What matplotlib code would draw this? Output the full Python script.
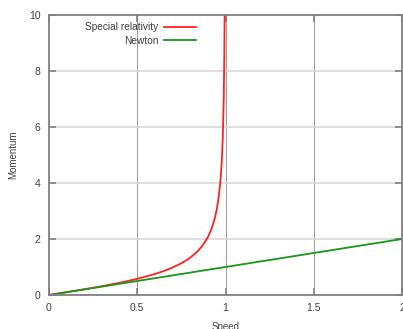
import numpy as np
import matplotlib.pyplot as plt

plt.rcParams['font.family'] = ['Liberation Sans', 'DejaVu Sans']

# speed (fraction of c) and momentum
speed_rel = [0, 0.1, 0.2, 0.3, 0.4, 0.5, 0.6, 0.65, 0.7, 0.75, 0.8, 0.84, 0.87, 0.9,
             0.92, 0.94, 0.95, 0.96, 0.97, 0.975, 0.98, 0.985, 0.99, 0.993, 0.995, 0.9951]
mom_rel = [0, 0.10, 0.204, 0.314, 0.436, 0.577, 0.75, 0.855, 0.98, 1.134, 1.333, 1.548,
           1.764, 2.065, 2.348, 2.755, 3.042, 3.429, 3.990, 4.388, 4.925, 5.683, 7.018,
           8.376, 9.962, 10.2]
speed_newt = [0, 2]
mom_newt = [0, 2]

xticks = [0, 0.5, 1, 1.5, 2]
yticks = [0, 2, 4, 6, 8, 10]

fig = plt.figure(figsize=(4.03, 3.29), dpi=100)
ax = fig.add_axes([49/403, 34/329, 353/403, 280/329])

ax.plot(speed_rel, mom_rel, color='#ff2020', lw=1.3, label='Special relativity')
ax.plot(speed_newt, mom_newt, color='#1a961a', lw=1.3, label='Newton')

ax.set_xlim(0, 2)
ax.set_ylim(0, 10)
ax.set_xticks(xticks)
ax.set_xticklabels(['0', '0.5', '1', '1.5', '2'])
ax.set_yticks(yticks)

for x in xticks[1:-1]:
    ax.axvline(x, color='#a0a0a0', lw=0.8, zorder=0)
for y in yticks[1:-1]:
    ax.axhline(y, color='#d8d8d8', lw=1.2, zorder=0)

for s in ax.spines.values():
    s.set_color('#808080')
    s.set_linewidth(1.3)
ax.tick_params(direction='in', length=5, width=1.2, color='#808080',
               labelsize=7.5, labelcolor='#404040', top=True, right=True, pad=6)

ax.set_xlabel('Speed', fontsize=7, color='#404040', labelpad=6)
ax.set_ylabel('Momentum', fontsize=7, color='#404040', labelpad=8)

leg = ax.legend(loc='upper left', bbox_to_anchor=(0.085, 0.995), frameon=False,
                markerfirst=False, fontsize=7.3, handlelength=3.1, handletextpad=0.6,
                labelspacing=0.35, borderaxespad=0.2)
for t in leg.get_texts():
    t.set_ha('right')
    t.set_color('#404040')
leg._legend_box.align = 'right'

fig.savefig('out.png', dpi=100)
